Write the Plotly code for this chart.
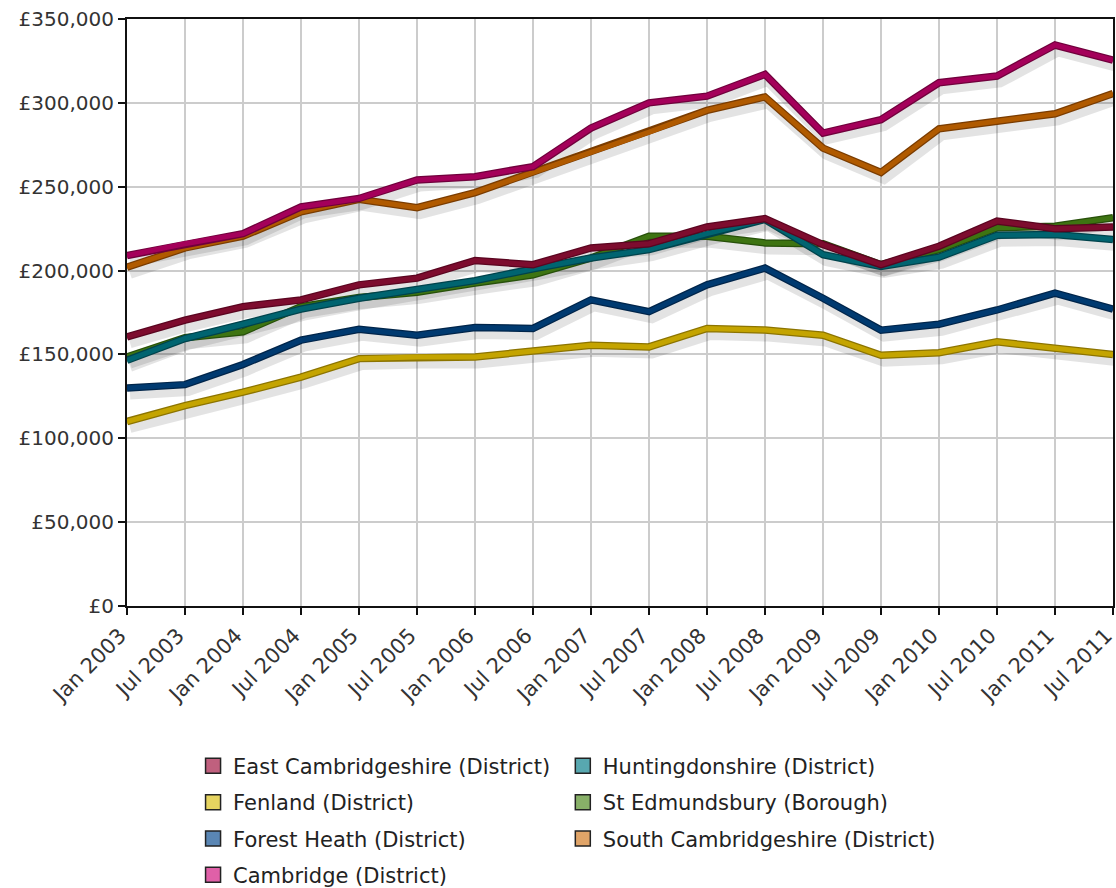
import plotly.graph_objects as go

periods = ["Jan 2003", "Jul 2003", "Jan 2004", "Jul 2004", "Jan 2005", "Jul 2005",
           "Jan 2006", "Jul 2006", "Jan 2007", "Jul 2007", "Jan 2008", "Jul 2008",
           "Jan 2009", "Jul 2009", "Jan 2010", "Jul 2010", "Jan 2011", "Jul 2011"]

east_cambridgeshire = [160500, 170500, 178500, 182500, 191500, 195500, 206000, 203500, 213500,
                       216000, 226000, 231000, 215500, 203500, 214500, 229500, 225000, 226000]
fenland = [110000, 119500, 127500, 136500, 147500, 148500, 148500, 152000, 155500,
           154500, 165500, 164500, 161500, 149500, 151000, 157500, 154000, 150000]
forest_heath = [130000, 132000, 144000, 158500, 165000, 161500, 166000, 165500, 182500,
                175500, 191500, 201500, 183500, 164500, 168000, 176500, 186500, 177000]
cambridge = [209000, 216000, 222000, 238000, 243000, 254000, 256000, 262000, 285000,
             300000, 304000, 317000, 282000, 290000, 312000, 316000, 334500, 325500]
huntingdonshire = [146500, 159500, 168000, 177000, 183500, 189000, 194000, 201000, 207500,
                   212500, 222000, 230500, 209500, 202500, 208000, 221000, 221500, 218500]
st_edmundsbury = [148500, 160000, 163500, 178500, 184000, 187000, 192500, 197500, 207500,
                  220500, 220500, 216500, 216000, 203500, 212500, 225500, 226500, 231500]
south_cambridgeshire = [202000, 213500, 220500, 235000, 242500, 237500, 246500, 258500, 270500,
                        282500, 295500, 303500, 273000, 258500, 284500, 289000, 293500, 305500]

# name, values, line colour, outline colour, swatch colour, legend
series = [
    ("East Cambridgeshire (District)", east_cambridgeshire, "#7d0c2e", "#5a0520", "#c0607e", "legend"),
    ("Fenland (District)", fenland, "#c4a400", "#8c7400", "#e6d460", "legend"),
    ("Forest Heath (District)", forest_heath, "#003a70", "#00254a", "#5a86b4", "legend"),
    ("Cambridge (District)", cambridge, "#a4005a", "#70003c", "#e060a8", "legend"),
    ("Huntingdonshire (District)", huntingdonshire, "#006470", "#00434c", "#58a8b0", "legend2"),
    ("St Edmundsbury (Borough)", st_edmundsbury, "#3e7412", "#27500a", "#88b068", "legend2"),
    ("South Cambridgeshire (District)", south_cambridgeshire, "#b05a00", "#7a3c00", "#e0a468", "legend2"),
]

FONT = "DejaVu Sans"
fig = go.Figure()

# shadows (on offset helper axes)
for name, vals, col, dark, sw, lg in series:
    fig.add_trace(go.Scatter(x=periods, y=vals, mode="lines", xaxis="x", yaxis="y",
                             line=dict(color="rgba(0,0,0,0.11)", width=11),
                             showlegend=False, hoverinfo="skip"))

# lines, drawn from last series to first
for name, vals, col, dark, sw, lg in reversed(series):
    fig.add_trace(go.Scatter(x=periods, y=vals, mode="lines", xaxis="x2", yaxis="y2",
                             line=dict(color=dark, width=7.5), showlegend=False,
                             hoverinfo="skip"))
    fig.add_trace(go.Scatter(x=periods, y=vals, mode="lines", xaxis="x2", yaxis="y2",
                             line=dict(color=col, width=5), showlegend=False, name=name))

# legend swatches
for name, vals, col, dark, sw, lg in series:
    fig.add_trace(go.Scatter(x=[None], y=[None], mode="markers", xaxis="x2", yaxis="y2",
                             name=name, legend=lg, legendgroup=name,
                             marker=dict(symbol="square", size=15, color=sw,
                                         line=dict(color="#222222", width=1.5))))

px_per_val = 350000 / 587
px_per_cat = 17 / 986
dy = 6 * px_per_val
dx = 3 * px_per_cat

legend_common = dict(
    orientation="v", xanchor="left", yanchor="top", traceorder="grouped",
    tracegroupgap=6, itemwidth=30, bgcolor="rgba(0,0,0,0)",
    font=dict(family=FONT, size=21, color="#222222"),
)

fig.update_layout(
    width=1116, height=888,
    margin=dict(l=127, r=3, t=19, b=282, autoexpand=False),
    paper_bgcolor="white", plot_bgcolor="white",
    font=dict(family=FONT, size=20, color="#333333"),
    xaxis=dict(type="category", categoryorder="array", categoryarray=periods,
               range=[-dx, 17 - dx], visible=False, showgrid=False, fixedrange=True,
               automargin=False),
    yaxis=dict(range=[dy, 350000 + dy], visible=False, showgrid=False, fixedrange=True,
               automargin=False),
    xaxis2=dict(type="category", categoryorder="array", categoryarray=periods,
                overlaying="x", anchor="y2", range=[0, 17], automargin=False,
                ticklabeloverflow="allow",
                showgrid=True, gridcolor="#cccccc", gridwidth=2,
                showline=True, linecolor="#111111", linewidth=2, mirror=True,
                ticks="outside", ticklen=7, tickwidth=2, tickcolor="#111111",
                tickangle=-45, ticklabelshift=-7,
                tickfont=dict(family=FONT, size=21, color="#333333")),
    yaxis2=dict(overlaying="y", anchor="x2", side="left", range=[0, 350000],
                automargin=False, ticklabeloverflow="allow",
                dtick=50000, tickprefix="£", tickformat=",d",
                showgrid=True, gridcolor="#cccccc", gridwidth=2, zeroline=False,
                showline=True, linecolor="#111111", linewidth=2, mirror=True,
                ticks="outside", ticklen=7, tickwidth=2, tickcolor="#111111",
                tickfont=dict(family=FONT, size=20, color="#333333")),
    legend=dict(x=0.067, y=-0.238, **legend_common),
    legend2=dict(x=0.442, y=-0.238, **legend_common),
)

# remove the default page margin so the figure sits at the window's top-left corner
fig.write_html("out.html",
               config={"displayModeBar": False},
               post_script="document.body.style.margin='0px';"
                           "document.body.style.overflow='hidden';")
